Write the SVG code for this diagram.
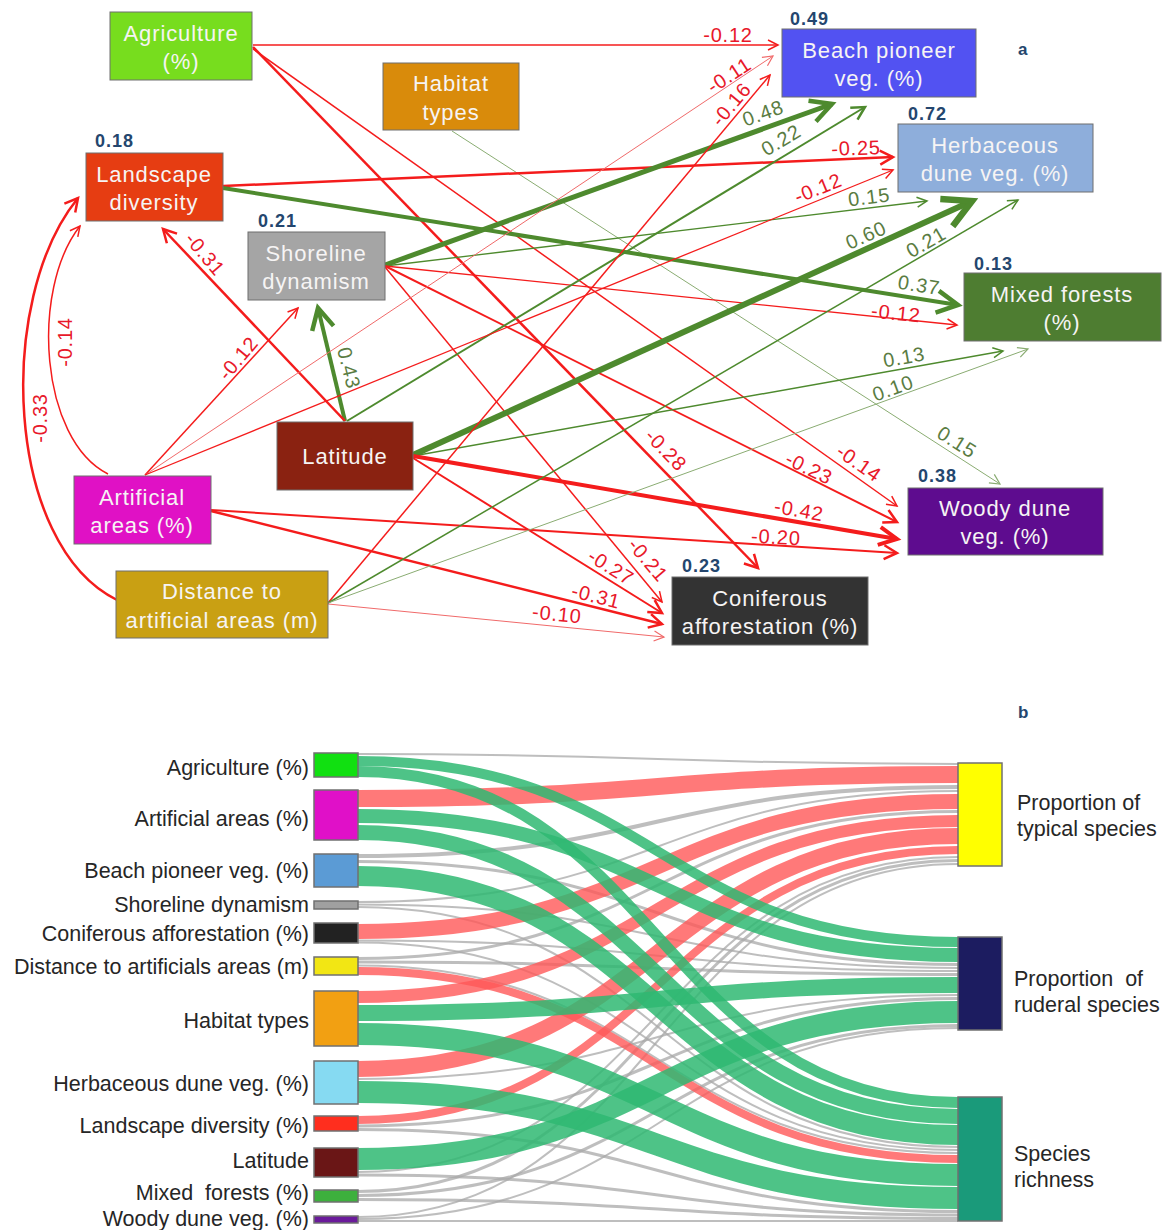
<svg xmlns="http://www.w3.org/2000/svg" width="1167" height="1230" viewBox="0 0 1167 1230">
<style>
text{font-family:'Liberation Sans',Arial,sans-serif}
.bx{font-size:22px;fill:#f6f4f4;text-anchor:middle;letter-spacing:0.9px}
.r2{font-size:18px;font-weight:bold;fill:#24466e;letter-spacing:1px}
.lr{font-size:20px;fill:#e8182a;text-anchor:middle;letter-spacing:0.8px}
.lg{font-size:20px;fill:#5a7c42;text-anchor:middle;letter-spacing:0.8px}
.er{fill:none;stroke:#f41c1c;stroke-linecap:butt}
.eg{fill:none;stroke:#4e8a2e;stroke-linecap:butt}
.nb{stroke:#6e6e6e;stroke-width:1}
.sl{font-size:21.5px;fill:#262626;text-anchor:end}
.sr{font-size:21.5px;fill:#262626}
.fg{fill:none;stroke:#2fb872;stroke-opacity:0.85}
.fr{fill:none;stroke:#ff5757;stroke-opacity:0.8}
.fy{fill:none;stroke:#a8a8a8;stroke-opacity:0.75}
.sn{stroke:#707070;stroke-width:1.5}
.pl{font-size:17px;font-weight:bold;fill:#24466e}
</style>
<defs>
<marker id="rS" markerUnits="userSpaceOnUse" viewBox="-12 -8 14 16" markerWidth="14" markerHeight="16" refX="0" refY="0" orient="auto" overflow="visible"><path d="M-10,-5 L0,0 L-10,5" fill="none" stroke="#f41c1c" stroke-width="1.5"/></marker>
<marker id="rM" markerUnits="userSpaceOnUse" viewBox="-16 -10 18 20" markerWidth="18" markerHeight="20" refX="0" refY="0" orient="auto" overflow="visible"><path d="M-13,-7 L0,0 L-13,7" fill="none" stroke="#f41c1c" stroke-width="2.5"/></marker>
<marker id="rL" markerUnits="userSpaceOnUse" viewBox="-20 -12 22 24" markerWidth="22" markerHeight="24" refX="0" refY="0" orient="auto" overflow="visible"><path d="M-18,-9 L0,0 L-18,9" fill="none" stroke="#f41c1c" stroke-width="4"/></marker>
<marker id="pS" markerUnits="userSpaceOnUse" viewBox="-12 -8 14 16" markerWidth="14" markerHeight="16" refX="0" refY="0" orient="auto" overflow="visible"><path d="M-10,-5 L0,0 L-10,5" fill="none" stroke="#f06a6a" stroke-width="1.2"/></marker>
<marker id="gS" markerUnits="userSpaceOnUse" viewBox="-12 -8 14 16" markerWidth="14" markerHeight="16" refX="0" refY="0" orient="auto" overflow="visible"><path d="M-10,-5 L0,0 L-10,5" fill="none" stroke="#4e8a2e" stroke-width="1.5"/></marker>
<marker id="lS" markerUnits="userSpaceOnUse" viewBox="-12 -8 14 16" markerWidth="14" markerHeight="16" refX="0" refY="0" orient="auto" overflow="visible"><path d="M-10,-5 L0,0 L-10,5" fill="none" stroke="#8aac72" stroke-width="1.2"/></marker>
<marker id="gM" markerUnits="userSpaceOnUse" viewBox="-16 -10 18 20" markerWidth="18" markerHeight="20" refX="0" refY="0" orient="auto" overflow="visible"><path d="M-13,-7 L0,0 L-13,7" fill="none" stroke="#4e8a2e" stroke-width="2.5"/></marker>
<marker id="gL" markerUnits="userSpaceOnUse" viewBox="-24 -14 26 28" markerWidth="26" markerHeight="28" refX="0" refY="0" orient="auto" overflow="visible"><path d="M-21,-11 L0,0 L-21,11" fill="none" stroke="#4e8a2e" stroke-width="4.5"/></marker>
<marker id="gX" markerUnits="userSpaceOnUse" viewBox="-32 -18 34 36" markerWidth="34" markerHeight="36" refX="0" refY="0" orient="auto" overflow="visible"><path d="M-28,-15 L0,0 L-28,15" fill="none" stroke="#4e8a2e" stroke-width="6.5"/></marker>
</defs>
<rect width="1167" height="1230" fill="#ffffff"/>

<!-- Panel a connectors -->
<g id="connectors-a">
<path class="er" d="M253,45 L778,45" stroke-width="1.5" marker-end="url(#rS)"/>
<path class="er" d="M253,47 L758,568" stroke-width="2.5" marker-end="url(#rM)"/>
<path class="er" d="M253,49 L897,506" stroke-width="1.5" marker-end="url(#rS)"/>
<path d="M452,131 L1000,484" fill="none" stroke="#8aac72" stroke-width="1" marker-end="url(#lS)"/>
<path class="er" d="M223,186 L893,157" stroke-width="2.5" marker-end="url(#rM)"/>
<path class="eg" d="M223,188 L958,305" stroke-width="4" marker-end="url(#gL)"/>
<path class="eg" d="M385,265 L832,104" stroke-width="5" marker-end="url(#gL)"/>
<path class="eg" d="M385,266 L927,201" stroke-width="1.3" marker-end="url(#gS)"/>
<path class="er" d="M385,266 L957,325" stroke-width="1.3" marker-end="url(#rS)"/>
<path class="er" d="M385,266 L897,522" stroke-width="2" marker-end="url(#rM)"/>
<path class="er" d="M385,267 L662,602" stroke-width="1.5" marker-end="url(#rS)"/>
<path class="eg" d="M345,421 L318,308" stroke-width="4" marker-end="url(#gL)"/>
<path class="er" d="M345,421 L163,229" stroke-width="2.5" marker-end="url(#rM)"/>
<path class="eg" d="M347,421 L865,107" stroke-width="2" marker-end="url(#gM)"/>
<path class="eg" d="M413,455 L972,201" stroke-width="6" marker-end="url(#gX)"/>
<path class="eg" d="M413,456 L1003,351" stroke-width="1.5" marker-end="url(#gS)"/>
<path class="er" d="M413,456 L897,539" stroke-width="4" marker-end="url(#rL)"/>
<path class="er" d="M413,458 L662,613" stroke-width="2" marker-end="url(#rM)"/>
<path class="er" d="M108,474 C40,440 30,290 80,226" stroke-width="1.5" marker-end="url(#rS)"/>
<path class="er" d="M145,475 L298,308" stroke-width="1.5" marker-end="url(#rS)"/>
<path d="M145,475 L773,56" fill="none" stroke="#f06a6a" stroke-width="1" marker-end="url(#pS)"/>
<path class="er" d="M145,475 L893,170" stroke-width="1.3" marker-end="url(#rS)"/>
<path class="er" d="M211,510 L897,553" stroke-width="2" marker-end="url(#rM)"/>
<path class="er" d="M211,511 L662,624" stroke-width="2.5" marker-end="url(#rM)"/>
<path class="er" d="M117,600 C5,545 -5,300 78,198" stroke-width="2.5" marker-end="url(#rM)"/>
<path class="er" d="M328,603 L770,75" stroke-width="1.5" marker-end="url(#rS)"/>
<path class="eg" d="M328,603 L1018,200" stroke-width="1.5" marker-end="url(#gS)"/>
<path d="M328,603 L1028,349" fill="none" stroke="#8aac72" stroke-width="1" marker-end="url(#lS)"/>
<path d="M328,604 L664,637" fill="none" stroke="#f06a6a" stroke-width="1" marker-end="url(#pS)"/>
</g>

<g id="connector-labels-a">
<text class="lr" transform="translate(728,35)" dy="0.35em">-0.12</text>
<text class="lr" transform="translate(729,75) rotate(-33)" dy="0.35em">-0.11</text>
<text class="lr" transform="translate(731,104) rotate(-50)" dy="0.35em">-0.16</text>
<text class="lg" transform="translate(763,113) rotate(-20)" dy="0.35em">0.48</text>
<text class="lg" transform="translate(781,140) rotate(-31)" dy="0.35em">0.22</text>
<text class="lr" transform="translate(856,148) rotate(-2)" dy="0.35em">-0.25</text>
<text class="lr" transform="translate(818,188) rotate(-22)" dy="0.35em">-0.12</text>
<text class="lg" transform="translate(869,197) rotate(-7)" dy="0.35em">0.15</text>
<text class="lg" transform="translate(866,235) rotate(-24)" dy="0.35em">0.60</text>
<text class="lg" transform="translate(926,242) rotate(-30)" dy="0.35em">0.21</text>
<text class="lg" transform="translate(919,285) rotate(9)" dy="0.35em">0.37</text>
<text class="lr" transform="translate(896,313) rotate(6)" dy="0.35em">-0.12</text>
<text class="lg" transform="translate(904,357) rotate(-10)" dy="0.35em">0.13</text>
<text class="lg" transform="translate(893,388) rotate(-20)" dy="0.35em">0.10</text>
<text class="lg" transform="translate(957,442) rotate(32)" dy="0.35em">0.15</text>
<text class="lr" transform="translate(859,463) rotate(35)" dy="0.35em">-0.14</text>
<text class="lr" transform="translate(809,468) rotate(26)" dy="0.35em">-0.23</text>
<text class="lr" transform="translate(799,510) rotate(10)" dy="0.35em">-0.42</text>
<text class="lr" transform="translate(776,537) rotate(3)" dy="0.35em">-0.20</text>
<text class="lr" transform="translate(666,450) rotate(46)" dy="0.35em">-0.28</text>
<text class="lr" transform="translate(648,560) rotate(50)" dy="0.35em">-0.21</text>
<text class="lr" transform="translate(611,567) rotate(32)" dy="0.35em">-0.27</text>
<text class="lr" transform="translate(596,596) rotate(14)" dy="0.35em">-0.31</text>
<text class="lr" transform="translate(557,614) rotate(6)" dy="0.35em">-0.10</text>
<text class="lr" transform="translate(205,254) rotate(50)" dy="0.35em">-0.31</text>
<text class="lr" transform="translate(238,358) rotate(-50)" dy="0.35em">-0.12</text>
<text class="lg" transform="translate(349,368) rotate(76)" dy="0.35em">0.43</text>
<text class="lr" transform="translate(65,342) rotate(-90)" dy="0.35em">-0.14</text>
<text class="lr" transform="translate(40,418) rotate(-90)" dy="0.35em">-0.33</text>
</g>

<!-- Panel a nodes -->
<g id="node-agriculture"><rect class="nb" x="110" y="12" width="142" height="68" fill="#77dd1e"/><text class="bx" x="181" y="41">Agriculture</text><text class="bx" x="181" y="69">(%)</text></g>
<g id="node-habitat"><rect class="nb" x="383" y="63" width="136" height="67" fill="#d98b0b"/><text class="bx" x="451" y="91">Habitat</text><text class="bx" x="451" y="120">types</text></g>
<g id="node-beach"><rect class="nb" x="782" y="29" width="194" height="68" fill="#5252f2"/><text class="bx" x="879" y="58">Beach pioneer</text><text class="bx" x="879" y="86">veg. (%)</text><text class="r2" x="790" y="25">0.49</text></g>
<g id="node-herbaceous"><rect class="nb" x="898" y="124" width="195" height="68" fill="#8eaedb"/><text class="bx" x="995" y="153">Herbaceous</text><text class="bx" x="995" y="181">dune veg. (%)</text><text class="r2" x="908" y="120">0.72</text></g>
<g id="node-landscape"><rect class="nb" x="86" y="153" width="137" height="68" fill="#e63d12"/><text class="bx" x="154" y="182">Landscape</text><text class="bx" x="154" y="210">diversity</text><text class="r2" x="95" y="147">0.18</text></g>
<g id="node-shoreline"><rect class="nb" x="248" y="232" width="137" height="68" fill="#a5a5a5"/><text class="bx" x="316" y="261">Shoreline</text><text class="bx" x="316" y="289">dynamism</text><text class="r2" x="258" y="227">0.21</text></g>
<g id="node-mixed"><rect class="nb" x="964" y="273" width="197" height="68" fill="#4e7d31"/><text class="bx" x="1062" y="302">Mixed forests</text><text class="bx" x="1062" y="330">(%)</text><text class="r2" x="974" y="270">0.13</text></g>
<g id="node-latitude"><rect class="nb" x="277" y="422" width="136" height="68" fill="#8a2211"/><text class="bx" x="345" y="464">Latitude</text></g>
<g id="node-artificial"><rect class="nb" x="74" y="476" width="137" height="68" fill="#e011c5"/><text class="bx" x="142" y="505">Artificial</text><text class="bx" x="142" y="533">areas (%)</text></g>
<g id="node-woody"><rect class="nb" x="908" y="488" width="195" height="67" fill="#5e0c8f"/><text class="bx" x="1005" y="516">Woody dune</text><text class="bx" x="1005" y="544">veg. (%)</text><text class="r2" x="918" y="482">0.38</text></g>
<g id="node-distance"><rect class="nb" x="116" y="571" width="212" height="67" fill="#c9a013"/><text class="bx" x="222" y="599">Distance to</text><text class="bx" x="222" y="628">artificial areas (m)</text></g>
<g id="node-coniferous"><rect class="nb" x="672" y="577" width="196" height="68" fill="#333333"/><text class="bx" x="770" y="606">Coniferous</text><text class="bx" x="770" y="634">afforestation (%)</text><text class="r2" x="682" y="572">0.23</text></g>
<text class="pl" x="1018" y="55">a</text>

<!-- Panel b flows -->
<g id="flows-b">
<path class="fy" stroke-width="2" d="M358,754 C658,754 658,764 958,764"/>
<path class="fy" stroke-width="4" d="M358,856 C658,856 658,787 958,787"/>
<path class="fy" stroke-width="3" d="M358,861.5 C658,861.5 658,964.5 958,964.5"/>
<path class="fy" stroke-width="2" d="M358,902 C658,902 658,791 958,791"/>
<path class="fy" stroke-width="2" d="M358,904.5 C658,904.5 658,968 958,968"/>
<path class="fy" stroke-width="2" d="M358,907 C658,907 658,1147 958,1147"/>
<path class="fy" stroke-width="2" d="M358,940.5 C658,940.5 658,971 958,971"/>
<path class="fy" stroke-width="2" d="M358,942.5 C658,942.5 658,1150 958,1150"/>
<path class="fy" stroke-width="3" d="M358,958.5 C658,958.5 658,811.5 958,811.5"/>
<path class="fy" stroke-width="3" d="M358,962 C658,962 658,974.5 958,974.5"/>
<path class="fy" stroke-width="2" d="M358,965.5 C658,965.5 658,1153 958,1153"/>
<path class="fy" stroke-width="2" d="M358,1079 C658,1079 658,995 958,995"/>
<path class="fy" stroke-width="3" d="M358,1126 C658,1126 658,998.5 958,998.5"/>
<path class="fy" stroke-width="3" d="M358,1129.5 C658,1129.5 658,1211.5 958,1211.5"/>
<path class="fy" stroke-width="2" d="M358,1172 C658,1172 658,857 958,857"/>
<path class="fy" stroke-width="3" d="M358,1175 C658,1175 658,1215 958,1215"/>
<path class="fy" stroke-width="3" d="M358,1191.5 C658,1191.5 658,860.5 958,860.5"/>
<path class="fy" stroke-width="3" d="M358,1195.5 C658,1195.5 658,1025.5 958,1025.5"/>
<path class="fy" stroke-width="3" d="M358,1199.5 C658,1199.5 658,1218.5 958,1218.5"/>
<path class="fy" stroke-width="2" d="M358,1217 C658,1217 658,864 958,864"/>
<path class="fy" stroke-width="2" d="M358,1219 C658,1219 658,1028 958,1028"/>
<path class="fy" stroke-width="2" d="M358,1221 C658,1221 658,1221 958,1221"/>
<path class="fr" stroke-width="17" d="M358,798.5 C658,798.5 658,774.5 958,774.5"/>
<path class="fr" stroke-width="15" d="M358,931.5 C658,931.5 658,801.5 958,801.5"/>
<path class="fr" stroke-width="8" d="M358,971 C658,971 658,1159 958,1159"/>
<path class="fr" stroke-width="12" d="M358,997 C658,997 658,821 958,821"/>
<path class="fr" stroke-width="16" d="M358,1069 C658,1069 658,836 958,836"/>
<path class="fr" stroke-width="8" d="M358,1120 C658,1120 658,850 958,850"/>
<path class="fg" stroke-width="10" d="M358,761 C658,761 658,942 958,942"/>
<path class="fg" stroke-width="11" d="M358,771.5 C658,771.5 658,1102.5 958,1102.5"/>
<path class="fg" stroke-width="14" d="M358,816 C658,816 658,955 958,955"/>
<path class="fg" stroke-width="15" d="M358,832.5 C658,832.5 658,1116.5 958,1116.5"/>
<path class="fg" stroke-width="20" d="M358,876 C658,876 658,1135 958,1135"/>
<path class="fg" stroke-width="16" d="M358,1013 C658,1013 658,985 958,985"/>
<path class="fg" stroke-width="22" d="M358,1034 C658,1034 658,1175 958,1175"/>
<path class="fg" stroke-width="22" d="M358,1092 C658,1092 658,1198 958,1198"/>
<path class="fg" stroke-width="22" d="M358,1159 C658,1159 658,1012 958,1012"/>
</g>

<!-- Panel b nodes -->
<g id="sk-agriculture"><rect class="sn" x="314" y="753" width="44" height="24" fill="#11e011"/><text class="sl" x="309" y="775">Agriculture (%)</text></g>
<g id="sk-artificial"><rect class="sn" x="314" y="790" width="44" height="50" fill="#e010c8"/><text class="sl" x="309" y="826">Artificial areas (%)</text></g>
<g id="sk-beach"><rect class="sn" x="314" y="854" width="44" height="33" fill="#5b9bd5"/><text class="sl" x="309" y="878">Beach pioneer veg. (%)</text></g>
<g id="sk-shoreline"><rect class="sn" x="314" y="901" width="44" height="8" fill="#a0a0a0"/><text class="sl" x="309" y="912">Shoreline dynamism</text></g>
<g id="sk-coniferous"><rect class="sn" x="314" y="923" width="44" height="20" fill="#222222"/><text class="sl" x="309" y="941">Coniferous afforestation (%)</text></g>
<g id="sk-distance"><rect class="sn" x="314" y="957" width="44" height="18" fill="#f2e614"/><text class="sl" x="309" y="974">Distance to artificials areas (m)</text></g>
<g id="sk-habitat"><rect class="sn" x="314" y="991" width="44" height="55" fill="#f2a012"/><text class="sl" x="309" y="1028">Habitat types</text></g>
<g id="sk-herbaceous"><rect class="sn" x="314" y="1061" width="44" height="43" fill="#86daf2"/><text class="sl" x="309" y="1091">Herbaceous dune veg. (%)</text></g>
<g id="sk-landscape"><rect class="sn" x="314" y="1116" width="44" height="15" fill="#ff2e1e"/><text class="sl" x="309" y="1133">Landscape diversity (%)</text></g>
<g id="sk-latitude"><rect class="sn" x="314" y="1148" width="44" height="29" fill="#6a1616"/><text class="sl" x="309" y="1168">Latitude</text></g>
<g id="sk-mixed"><rect class="sn" x="314" y="1190" width="44" height="12" fill="#3db03d"/><text class="sl" x="309" y="1200" xml:space="preserve">Mixed  forests (%)</text></g>
<g id="sk-woody"><rect class="sn" x="314" y="1216" width="44" height="7" fill="#6a1a9a"/><text class="sl" x="309" y="1226">Woody dune veg. (%)</text></g>
<g id="sk-typical"><rect class="sn" x="958" y="763" width="44" height="103" fill="#ffff00"/><text class="sr" x="1017" y="810">Proportion of</text><text class="sr" x="1017" y="836">typical species</text></g>
<g id="sk-ruderal"><rect class="sn" x="958" y="937" width="44" height="93" fill="#1c1c60"/><text class="sr" x="1014" y="986" xml:space="preserve">Proportion  of</text><text class="sr" x="1014" y="1012">ruderal species</text></g>
<g id="sk-richness"><rect class="sn" x="958" y="1097" width="44" height="124" fill="#1a9a7a"/><text class="sr" x="1014" y="1161">Species</text><text class="sr" x="1014" y="1187">richness</text></g>
<text class="pl" x="1018" y="718">b</text>
</svg>
